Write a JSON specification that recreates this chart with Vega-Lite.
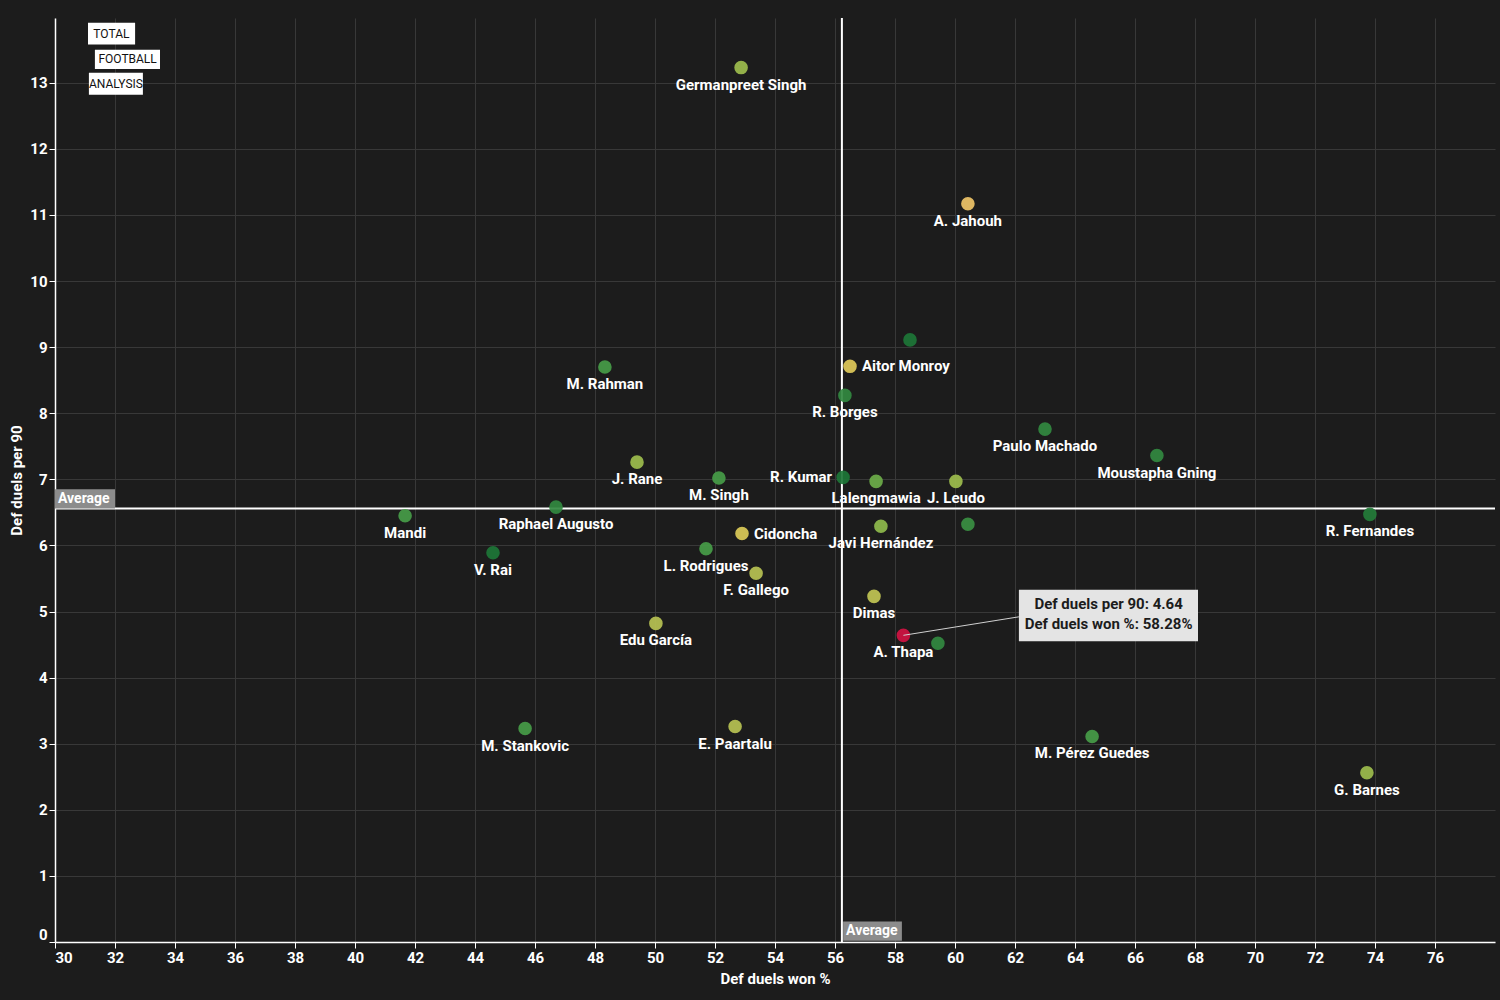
{
  "$schema": "https://vega.github.io/schema/vega-lite/v6.json",
  "width": 1440,
  "height": 924,
  "autosize": {"type": "none"},
  "padding": {"left": 55, "top": 18, "right": 5, "bottom": 58},
  "background": "#1c1c1c",
  "config": {
    "view": {"stroke": null},
    "font": "Roboto",
    "axis": {
      "domainColor": "#ffffff",
      "domainWidth": 1.5,
      "tickColor": "#ffffff",
      "tickSize": 6,
      "gridColor": "#383838",
      "gridWidth": 1,
      "labelColor": "#ffffff",
      "labelFont": "Roboto",
      "labelFontSize": 15,
      "labelFontWeight": "bold",
      "titleColor": "#ffffff",
      "titleFont": "Roboto",
      "titleFontSize": 15,
      "titleFontWeight": "bold"
    }
  },
  "datasets": {
    "players": [
      {"player": "Germanpreet Singh", "won": 52.87, "per90": 13.23, "tone": 0.4},
      {"player": "A. Jahouh", "won": 60.43, "per90": 11.17, "tone": 0.0},
      {"won": 58.5, "per90": 9.11, "tone": 0.95},
      {"player": "Aitor Monroy", "won": 56.5, "per90": 8.71, "tone": 0.1},
      {"player": "M. Rahman", "won": 48.33, "per90": 8.7, "tone": 0.65},
      {"player": "R. Borges", "won": 56.33, "per90": 8.27, "tone": 0.8},
      {"player": "Paulo Machado", "won": 63.0, "per90": 7.76, "tone": 0.8},
      {"player": "Moustapha Gning", "won": 66.73, "per90": 7.36, "tone": 0.8},
      {"player": "J. Rane", "won": 49.4, "per90": 7.26, "tone": 0.4},
      {"player": "M. Singh", "won": 52.13, "per90": 7.02, "tone": 0.65},
      {"player": "R. Kumar", "won": 56.27, "per90": 7.03, "tone": 0.95},
      {"player": "Lalengmawia", "won": 57.37, "per90": 6.97, "tone": 0.55},
      {"player": "J. Leudo", "won": 60.03, "per90": 6.97, "tone": 0.4},
      {"player": "Raphael Augusto", "won": 46.7, "per90": 6.58, "tone": 0.8},
      {"player": "Mandi", "won": 41.67, "per90": 6.45, "tone": 0.65},
      {"player": "R. Fernandes", "won": 73.83, "per90": 6.47, "tone": 0.9},
      {"player": "Javi Hernández", "won": 57.53, "per90": 6.29, "tone": 0.45},
      {"won": 60.43, "per90": 6.32, "tone": 0.75},
      {"player": "Cidoncha", "won": 52.9, "per90": 6.18, "tone": 0.12},
      {"player": "V. Rai", "won": 44.6, "per90": 5.89, "tone": 0.95},
      {"player": "L. Rodrigues", "won": 51.7, "per90": 5.95, "tone": 0.65},
      {"player": "F. Gallego", "won": 53.37, "per90": 5.58, "tone": 0.3},
      {"player": "Dimas", "won": 57.3, "per90": 5.23, "tone": 0.25},
      {"player": "Edu García", "won": 50.03, "per90": 4.82, "tone": 0.3},
      {"player": "A. Thapa", "won": 58.28, "per90": 4.64, "tone": 0.0},
      {"won": 59.43, "per90": 4.52, "tone": 0.8},
      {"player": "M. Stankovic", "won": 45.67, "per90": 3.23, "tone": 0.65},
      {"player": "E. Paartalu", "won": 52.67, "per90": 3.26, "tone": 0.3},
      {"player": "M. Pérez Guedes", "won": 64.57, "per90": 3.11, "tone": 0.65},
      {"player": "G. Barnes", "won": 73.73, "per90": 2.56, "tone": 0.4}
    ],
    "average": [{"won": 56.23, "per90": 6.56}],
    "avgLabels": [
      {"label": "Average", "won": 30.0, "won2": 32.0, "per90": 6.56, "per902": 6.85, "tx": 30.1, "ty": 6.705},
      {"label": "Average", "won": 56.27, "won2": 58.23, "per90": 0.02, "per902": 0.31, "tx": 56.37, "ty": 0.165}
    ],
    "callout": [
      {"won": 62.13, "won2": 68.1, "per90": 4.55, "per902": 5.33, "cx": 65.12, "cy": 5.12, "lx": 58.28, "ly": 4.64, "lx2": 62.13, "ly2": 4.92,
       "text": ["Def duels per 90: 4.64", "Def duels won %: 58.28%"]}
    ],
    "logo": [
      {"word": "TOTAL", "won": 31.1, "won2": 32.67, "per90": 13.58, "per902": 13.91, "tx": 31.88, "ty": 13.745},
      {"word": "FOOTBALL", "won": 31.33, "won2": 33.5, "per90": 13.21, "per902": 13.5, "tx": 32.42, "ty": 13.355},
      {"word": "ANALYSIS", "won": 31.13, "won2": 32.93, "per90": 12.82, "per902": 13.15, "tx": 32.03, "ty": 12.985}
    ]
  },
  "layer": [
    {
      "data": {"name": "average"},
      "mark": {"type": "rule", "color": "#ffffff", "strokeWidth": 2},
      "encoding": {
        "x": {"field": "won", "type": "quantitative", "title": "Def duels won %",
              "scale": {"domain": [30, 78], "nice": false, "zero": false},
              "axis": {"values": [30,32,34,36,38,40,42,44,46,48,50,52,54,56,58,60,62,64,66,68,70,72,74,76], "format": "d", "titlePadding": 6}}
      }
    },
    {
      "data": {"name": "average"},
      "mark": {"type": "rule", "color": "#ffffff", "strokeWidth": 2},
      "encoding": {
        "y": {"field": "per90", "type": "quantitative", "title": "Def duels per 90",
              "scale": {"domain": [0, 13.98], "nice": false, "zero": false},
              "axis": {"values": [0,1,2,3,4,5,6,7,8,9,10,11,12,13], "format": "d", "labelFlush": true, "titlePadding": 5}}
      }
    },
    {
      "data": {"name": "avgLabels"},
      "mark": {"type": "rect", "color": "#8c8c8c"},
      "encoding": {
        "x": {"field": "won", "type": "quantitative", "title": "Def duels won %"},
        "x2": {"field": "won2"},
        "y": {"field": "per90", "type": "quantitative", "title": "Def duels per 90"},
        "y2": {"field": "per902"}
      }
    },
    {
      "data": {"name": "avgLabels"},
      "mark": {"type": "text", "color": "#ffffff", "fontSize": 14, "fontWeight": "bold", "align": "left", "baseline": "middle"},
      "encoding": {
        "x": {"field": "tx", "type": "quantitative", "title": "Def duels won %"},
        "y": {"field": "ty", "type": "quantitative", "title": "Def duels per 90"},
        "text": {"field": "label"}
      }
    },
    {
      "data": {"name": "logo"},
      "mark": {"type": "rect", "color": "#ffffff"},
      "encoding": {
        "x": {"field": "won", "type": "quantitative", "title": "Def duels won %"},
        "x2": {"field": "won2"},
        "y": {"field": "per90", "type": "quantitative", "title": "Def duels per 90"},
        "y2": {"field": "per902"}
      }
    },
    {
      "data": {"name": "logo"},
      "mark": {"type": "text", "color": "#111111", "fontSize": 12, "align": "center", "baseline": "middle"},
      "encoding": {
        "x": {"field": "tx", "type": "quantitative", "title": "Def duels won %"},
        "y": {"field": "ty", "type": "quantitative", "title": "Def duels per 90"},
        "text": {"field": "word"}
      }
    },
    {
      "data": {"name": "players"},
      "transform": [{"filter": "datum.player != 'A. Thapa'"}],
      "mark": {"type": "circle", "size": 185, "opacity": 0.92},
      "encoding": {
        "x": {"field": "won", "type": "quantitative", "title": "Def duels won %"},
        "y": {"field": "per90", "type": "quantitative", "title": "Def duels per 90"},
        "color": {"field": "tone", "type": "quantitative", "legend": null,
                  "scale": {"domain": [0, 0.12, 0.3, 0.45, 0.65, 1], "range": ["#efc468", "#dccb58", "#b7c253", "#8fbb4c", "#479c48", "#157034"]}}
      }
    },
    {
      "data": {"name": "players"},
      "transform": [{"filter": "datum.player == 'A. Thapa'"}],
      "mark": {"type": "circle", "size": 185, "opacity": 1, "color": "#c2133f"},
      "encoding": {
        "x": {"field": "won", "type": "quantitative", "title": "Def duels won %"},
        "y": {"field": "per90", "type": "quantitative", "title": "Def duels per 90"}
      }
    },
    {
      "data": {"name": "players"},
      "transform": [{"filter": "isValid(datum.player) && datum.player != '' && datum.player != 'Aitor Monroy' && datum.player != 'Cidoncha' && datum.player != 'R. Kumar'"}],
      "mark": {"type": "text", "color": "#ffffff", "fontSize": 15, "fontWeight": "bold", "align": "center", "baseline": "middle", "dy": 17},
      "encoding": {
        "x": {"field": "won", "type": "quantitative", "title": "Def duels won %"},
        "y": {"field": "per90", "type": "quantitative", "title": "Def duels per 90"},
        "text": {"field": "player"}
      }
    },
    {
      "data": {"name": "players"},
      "transform": [{"filter": {"field": "player", "oneOf": ["Aitor Monroy", "Cidoncha"]}}],
      "mark": {"type": "text", "color": "#ffffff", "fontSize": 15, "fontWeight": "bold", "align": "left", "baseline": "middle", "dx": 12},
      "encoding": {
        "x": {"field": "won", "type": "quantitative", "title": "Def duels won %"},
        "y": {"field": "per90", "type": "quantitative", "title": "Def duels per 90"},
        "text": {"field": "player"}
      }
    },
    {
      "data": {"name": "players"},
      "transform": [{"filter": {"field": "player", "equal": "R. Kumar"}}],
      "mark": {"type": "text", "color": "#ffffff", "fontSize": 15, "fontWeight": "bold", "align": "right", "baseline": "middle", "dx": -11},
      "encoding": {
        "x": {"field": "won", "type": "quantitative", "title": "Def duels won %"},
        "y": {"field": "per90", "type": "quantitative", "title": "Def duels per 90"},
        "text": {"field": "player"}
      }
    },
    {
      "data": {"name": "callout"},
      "mark": {"type": "rule", "color": "#d0d0d0", "strokeWidth": 1},
      "encoding": {
        "x": {"field": "lx", "type": "quantitative", "title": "Def duels won %"},
        "y": {"field": "ly", "type": "quantitative", "title": "Def duels per 90"},
        "x2": {"field": "lx2"},
        "y2": {"field": "ly2"}
      }
    },
    {
      "data": {"name": "callout"},
      "mark": {"type": "rect", "color": "#e4e4e4"},
      "encoding": {
        "x": {"field": "won", "type": "quantitative", "title": "Def duels won %"},
        "x2": {"field": "won2"},
        "y": {"field": "per90", "type": "quantitative", "title": "Def duels per 90"},
        "y2": {"field": "per902"}
      }
    },
    {
      "data": {"name": "callout"},
      "mark": {"type": "text", "color": "#1c1c1c", "fontSize": 15, "fontWeight": "bold", "align": "center", "baseline": "middle", "lineHeight": 20},
      "encoding": {
        "x": {"field": "cx", "type": "quantitative", "title": "Def duels won %"},
        "y": {"field": "cy", "type": "quantitative", "title": "Def duels per 90"},
        "text": {"field": "text"}
      }
    }
  ]
}
